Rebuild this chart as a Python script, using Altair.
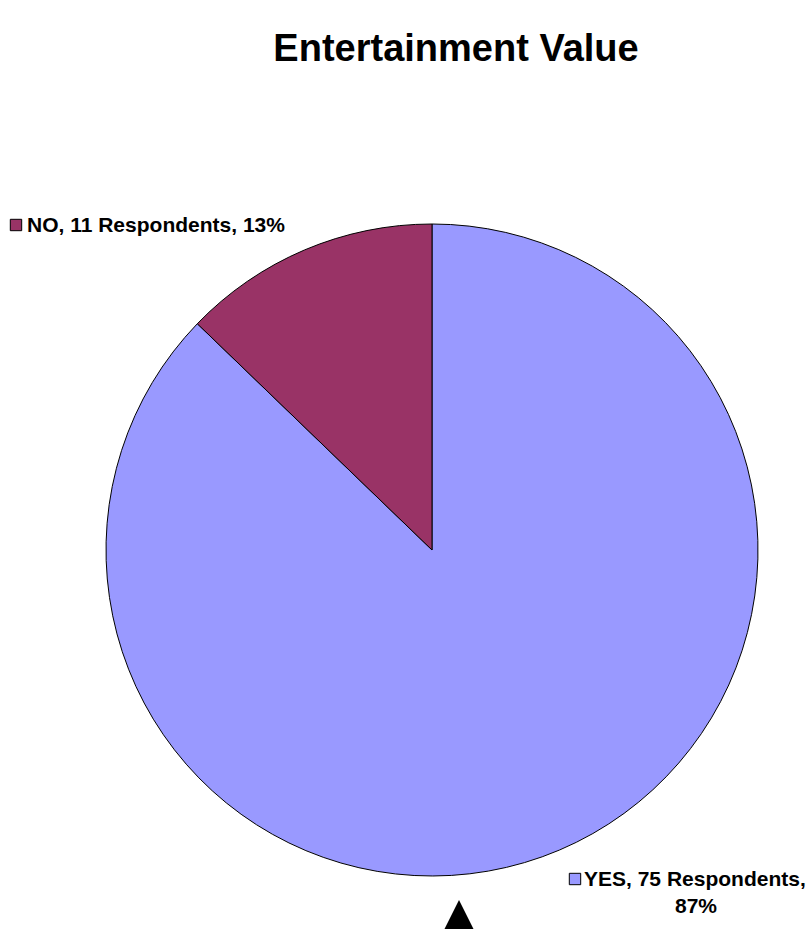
import altair as alt
import pandas as pd

categories = ["YES", "NO"]
respondents = [75, 11]
percents = [87, 13]
colors = ["#9999FF", "#993366"]
title_text = "Entertainment Value"

df = pd.DataFrame({
    "cat": categories,
    "n": respondents,
    "pct": percents,
    "idx": list(range(len(categories))),
})
df["line1"] = [f"{c}, {n} Respondents," for c, n in zip(categories, respondents)]
df["line2"] = [f"{p}%" for p in percents]
df["full"] = [f"{c}, {n} Respondents, {p}%" for c, n, p in zip(categories, respondents, percents)]

FONT = "Liberation Sans"
color_scale = alt.Scale(domain=categories, range=colors)
base = alt.Chart(df)

pie = base.mark_arc(outerRadius=326, stroke="#000000", strokeWidth=1).encode(
    theta=alt.Theta("n:Q", stack=True),
    color=alt.Color("cat:N", scale=color_scale, legend=None),
    order=alt.Order("idx:Q"),
    x=alt.value(432),
    y=alt.value(550),
)

no = base.transform_filter(alt.datum.cat == "NO")
yes = base.transform_filter(alt.datum.cat == "YES")

no_sq = no.mark_point(shape="square", filled=True, size=130, stroke="#000000", strokeWidth=1, opacity=1).encode(
    x=alt.value(16), y=alt.value(225),
    fill=alt.Color("cat:N", scale=color_scale, legend=None),
)
no_txt = no.mark_text(font=FONT, fontSize=21, fontWeight="bold", align="left", baseline="alphabetic", color="#000000").encode(
    x=alt.value(27), y=alt.value(232), text="full:N"
)

yes_sq = yes.mark_point(shape="square", filled=True, size=130, stroke="#000000", strokeWidth=1, opacity=1).encode(
    x=alt.value(575), y=alt.value(879),
    fill=alt.Color("cat:N", scale=color_scale, legend=None),
)
yes_txt1 = yes.mark_text(font=FONT, fontSize=21, fontWeight="bold", align="left", baseline="alphabetic", color="#000000").encode(
    x=alt.value(584), y=alt.value(886), text="line1:N"
)
yes_txt2 = yes.mark_text(font=FONT, fontSize=21, fontWeight="bold", align="center", baseline="alphabetic", color="#000000").encode(
    x=alt.value(696), y=alt.value(913), text="line2:N"
)

title = alt.Chart(pd.DataFrame({"t": [title_text]})).mark_text(
    font=FONT, fontSize=38, fontWeight="bold", align="center", baseline="alphabetic", color="#000000"
).encode(x=alt.value(456), y=alt.value(61), text="t:N")

tri = alt.Chart(pd.DataFrame({"k": ["cursor"]})).mark_point(
    shape="M0,-1L-1,1L1,1Z", filled=True, size=1600, color="#000000", opacity=1
).encode(x=alt.value(459), y=alt.value(920))

chart = alt.layer(pie, no_sq, no_txt, yes_sq, yes_txt1, yes_txt2, title, tri).properties(
    width=806, height=929,
    autosize=alt.AutoSizeParams(type="none"),
    padding=0,
    background="#FFFFFF",
).configure_view(stroke=None)

chart.save("out.html", embed_options={"renderer": "svg", "actions": False})
